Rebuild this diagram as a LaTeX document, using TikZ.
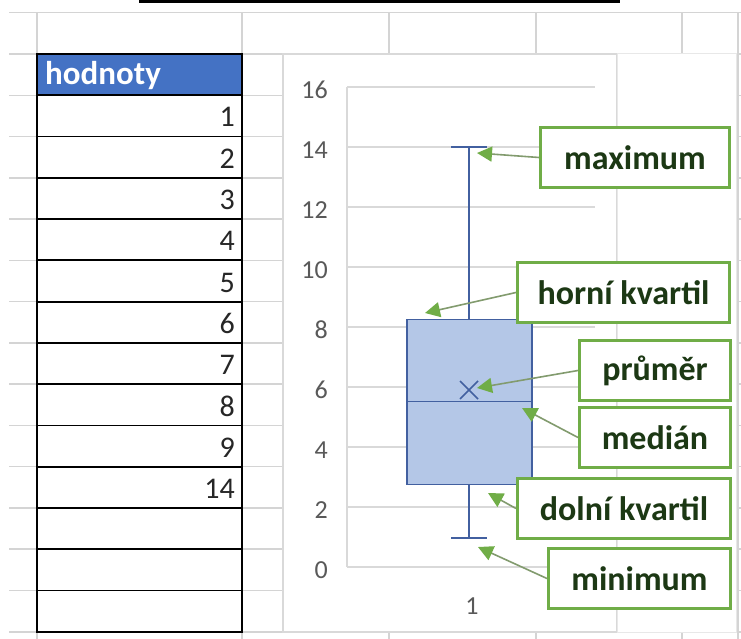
\documentclass[tikz,border=0pt]{standalone}
\usepackage{fontspec}
\setmainfont{Carlito}
\usetikzlibrary{positioning,arrows.meta}
\definecolor{sheetgrid}{RGB}{212,212,212}
\definecolor{chartgrid}{RGB}{217,217,217}
\definecolor{headblue}{RGB}{68,114,196}
\definecolor{boxfill}{RGB}{180,199,231}
\definecolor{boxline}{RGB}{66,96,160}
\definecolor{calloutgreen}{RGB}{112,173,71}
\definecolor{callouttext}{RGB}{28,56,20}
\definecolor{pointergray}{RGB}{130,155,110}
\definecolor{labelgray}{RGB}{89,89,89}
\tikzset{callout/.style = {draw=calloutgreen, line width=3pt, fill=white, minimum height=60pt, inner sep=0pt, text=callouttext, font=\fontsize{34}{38}\selectfont\bfseries, anchor=north east}}
\tikzset{pointer/.style = {draw=pointergray, line width=1.6pt, -{Triangle[length=15pt, width=15pt, color=calloutgreen]}}}
\tikzset{cell/.style = {anchor=base east, inner sep=0pt, text=black!85, font=\fontsize{30}{34}\selectfont}}
\tikzset{tick/.style = {anchor=east, inner sep=0pt, text=labelgray, font=\fontsize{26}{30}\selectfont}}

\begin{document}
\begin{tikzpicture}[x=1pt, y=-1pt]
  \useasboundingbox (0,0) rectangle (741,639);
  \fill[white] (0,0) rectangle (741,639);

  % sheet grid
  \foreach \k in {-1,...,14}
    \draw[sheetgrid, line width=1.5pt] (9,54+41.27*\k) -- (741,54+41.27*\k);
  \foreach \xx in {37,242,389,536,682,738}
    \draw[sheetgrid, line width=1.5pt] (\xx,12.7) -- (\xx,639);
  \draw[line width=3pt] (139,1.5) -- (620,1.5);

  % table
  \fill[headblue] (37,54) rectangle (242,95.3);
  \node[anchor=base west, inner sep=0pt, text=white, font=\fontsize{33}{37}\selectfont\bfseries] (head) at (45,85) {hodnoty};
  \foreach \k in {1,...,13}
    \draw[line width=1.8pt] (37,54+41.27*\k) -- (242,54+41.27*\k);
  \draw[line width=1.8pt] (37,54) rectangle (242,632);
  \node[cell] (v1) at (235,127) {1};
  \node[cell] (v2) at (235,168.3) {2};
  \node[cell] (v3) at (235,209.6) {3};
  \node[cell] (v4) at (235,250.8) {4};
  \node[cell] (v5) at (235,292.1) {5};
  \node[cell] (v6) at (235,333.4) {6};
  \node[cell] (v7) at (235,374.7) {7};
  \node[cell] (v8) at (235,416) {8};
  \node[cell] (v9) at (235,457.2) {9};
  \node[cell] (v14) at (235,498.5) {14};

  % chart
  \filldraw[fill=white, draw=chartgrid, line width=1.5pt] (283,54) rectangle (617,632);
  \filldraw[fill=white, draw=chartgrid!60, line width=1pt] (617,54) rectangle (736,632);
  \foreach \v in {0,2,...,16} {
    \draw[chartgrid, line width=1.5pt] (347,567-30*\v) -- (595,567-30*\v);
    \node[tick] at (328,570-30*\v) {\v};
  }
  \draw[chartgrid, line width=1.5pt] (347,87) -- (347,567);
  \node[text=labelgray, font=\fontsize{26}{30}\selectfont] (cat) at (472,606) {1};

  % box plot
  \draw[boxline, line width=1.6pt] (469,147) -- (469,319.5) (469,484.5) -- (469,538);
  \draw[boxline, line width=1.6pt] (451,147) -- (487,147) (451,538) -- (487,538);
  \filldraw[fill=boxfill, draw=boxline, line width=1.6pt] (407,319.5) rectangle (532,484.5);
  \draw[boxline, line width=1.6pt] (407,401.5) -- (532,401.5);
  \draw[boxline, line width=1.6pt] (460,381) -- (478,399) (460,399) -- (478,381);

  \coordinate (maxtip) at (477,153);
  \coordinate (hornitip) at (425,313);
  \coordinate (prumertip) at (477,388);
  \coordinate (mediantip) at (522,408);
  \coordinate (dolnitip) at (488,493);
  \coordinate (mintip) at (478,547);

  % callouts
  \node[callout, minimum width=189pt] (maxbox) at (731,126) {maximum};
  \node[callout, minimum width=212pt] (hornibox) at (731,261) {horní kvartil};
  \node[callout, minimum width=151pt] (prumerbox) at (732,339) {průměr};
  \node[callout, minimum width=151pt] (medianbox) at (732,406) {medián};
  \node[callout, minimum width=213pt] (dolnibox) at (732,477) {dolní kvartil};
  \node[callout, minimum width=182pt] (minbox) at (732,547) {minimum};

  \draw[pointer] (maxbox.west) -- (maxtip);
  \draw[pointer] (hornibox.west) -- (hornitip);
  \draw[pointer] (prumerbox.west) -- (prumertip);
  \draw[pointer] (medianbox.west) -- (mediantip);
  \draw[pointer] (dolnibox.west) -- (dolnitip);
  \draw[pointer] (minbox.west) -- (mintip);
\end{tikzpicture}
\end{document}
